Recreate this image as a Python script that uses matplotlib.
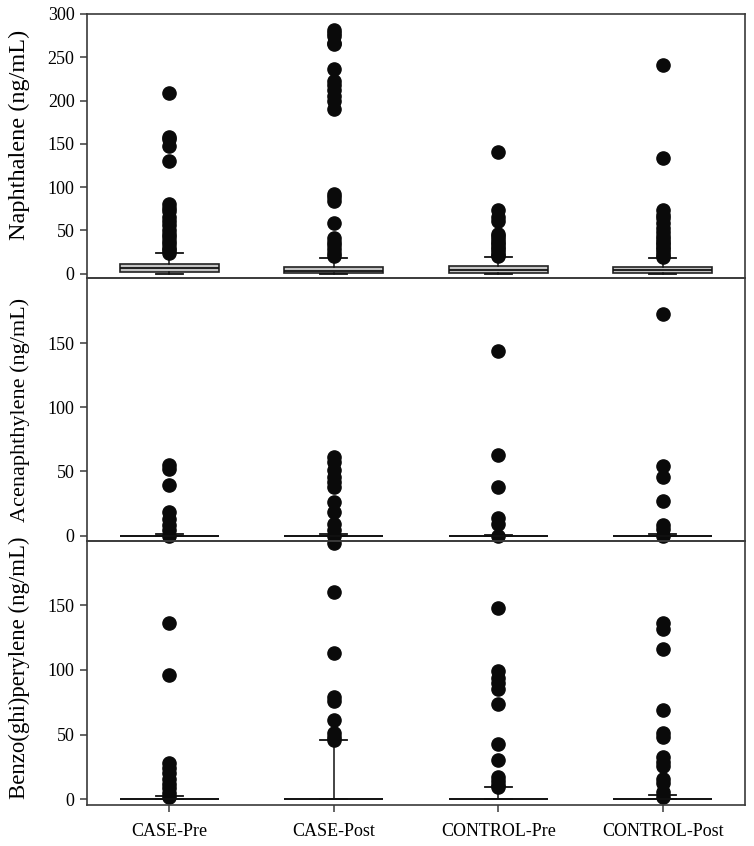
"""Three stacked box plots of PAH levels by group (case/control, pre/post)."""
import matplotlib
matplotlib.use("Agg")
import matplotlib.pyplot as plt

plt.rcParams["font.family"] = ["Liberation Serif", "DejaVu Serif"]

groups = ["CASE-Pre", "CASE-Post", "CONTROL-Pre", "CONTROL-Post"]

# Naphthalene: quartiles, whiskers, outliers per group
naph_q1 = [1.5, 0.3, 0.3, 0.5]
naph_med = [6.0, 3.5, 4.0, 4.5]
naph_q3 = [11.0, 7.5, 8.5, 8.0]
naph_lo = [0.0, 0.0, 0.0, 0.0]
naph_hi = [23.5, 18.0, 19.0, 18.5]
naph_out = [
    [209, 158, 155, 148, 130, 80, 76, 72, 66, 61, 56, 50, 46, 42, 38, 34, 30, 27, 24],
    [281, 278, 274, 267, 265, 236, 222, 218, 212, 205, 200, 190, 92, 88, 84, 59,
     41, 37, 33, 28, 24, 20],
    [140, 73, 66, 61, 46, 43, 40, 37, 34, 31, 28, 25, 22, 20],
    [241, 134, 73, 68, 64, 58, 53, 48, 44, 40, 37, 34, 31, 28, 25, 22, 19],
]

# Acenaphthylene
acen_q1 = [0, 0, 0, 0]
acen_med = [0, 0, 0, 0]
acen_q3 = [0, 0, 0, 0]
acen_lo = [0, 0, 0, 0]
acen_hi = [1.0, 1.0, 0.5, 1.0]
acen_out = [
    [55, 52, 39, 18, 13, 8, 4, 0],
    [61, 57, 51, 46, 42, 38, 26, 18, 9, 4, 0, -5.5],
    [144, 63, 38, 14, 9, 0],
    [173, 54, 46, 27, 8, 5, 0],
]

# Benzo(ghi)perylene
benz_q1 = [0, 0, 0, 0]
benz_med = [0, 0, 0, 0]
benz_q3 = [0, 0, 0, 0]
benz_lo = [0, 0, 0, 0]
benz_hi = [2.5, 45.5, 9.3, 3.3]
benz_out = [
    [136, 96, 28, 24, 20, 16, 12, 8.5, 4.6, 2],
    [160, 113, 79, 76, 61, 51, 48, 45.5],
    [148, 99, 94, 90, 85, 74, 43, 30, 17.5, 14.5, 11, 9.3],
    [136, 132, 116, 69, 51, 48, 33, 29, 26, 15.5, 12.4, 6, 2],
]

# label, stats..., ylim, yticks, label y position, label size
panels = [
    ("Naphthalene (ng/mL)", naph_q1, naph_med, naph_q3, naph_lo, naph_hi, naph_out,
     (-4.6, 300), range(0, 301, 50), 0.54, 17.5),
    ("Acenaphthylene (ng/mL)", acen_q1, acen_med, acen_q3, acen_lo, acen_hi, acen_out,
     (-4.5, 201), range(0, 151, 50), 0.5, 16),
    ("Benzo(ghi)perylene (ng/mL)", benz_q1, benz_med, benz_q3, benz_lo, benz_hi, benz_out,
     (-4.4, 199.5), range(0, 151, 50), 0.52, 16.4),
]

spine_col = "#3a3a3a"
fig, axes = plt.subplots(3, 1, figsize=(7.54, 8.46), dpi=100, sharex=True)
fig.subplots_adjust(left=0.1154, right=0.988, bottom=0.0485, top=0.9835, hspace=0)

for ax, (label, q1, med, q3, lo, hi, out, ylim, yticks, ly, lsize) in zip(axes, panels):
    ax.set_facecolor("none")
    stats = []
    for i, g in enumerate(groups):
        stats.append(dict(label=g, q1=q1[i], med=med[i], q3=q3[i],
                          whislo=lo[i], whishi=hi[i], fliers=out[i]))
    ax.bxp(stats, positions=[1, 2, 3, 4], widths=0.6, patch_artist=True,
           capwidths=0.165,
           boxprops=dict(facecolor="#c4c4c4", edgecolor="#222222", linewidth=1.2),
           medianprops=dict(color="#111111", linewidth=1.3),
           whiskerprops=dict(color="#111111", linewidth=1.1),
           capprops=dict(color="#111111", linewidth=1.3),
           flierprops=dict(marker="o", markersize=9.5, markerfacecolor="#0a0a0a",
                           markeredgecolor="#0a0a0a", clip_on=False))
    ax.set_ylim(*ylim)
    ax.set_yticks(list(yticks))
    ax.set_xlim(0.5, 4.5)
    ax.set_ylabel(label, fontsize=lsize)
    ax.yaxis.set_label_coords(-0.087, ly)
    ax.tick_params(axis="y", direction="out", length=5, width=1.1, labelsize=13,
                   pad=4, color=spine_col)
    ax.tick_params(axis="x", direction="out", length=5, width=1.1, labelsize=13,
                   pad=8, color=spine_col)
    for s in ax.spines.values():
        s.set_color(spine_col)
        s.set_linewidth(1.2)

for ax in axes[:-1]:
    ax.tick_params(axis="x", length=0)
axes[-1].set_xticks([1, 2, 3, 4])
axes[-1].set_xticklabels(groups)

fig.savefig("out.png", facecolor="white")
plt.close(fig)
